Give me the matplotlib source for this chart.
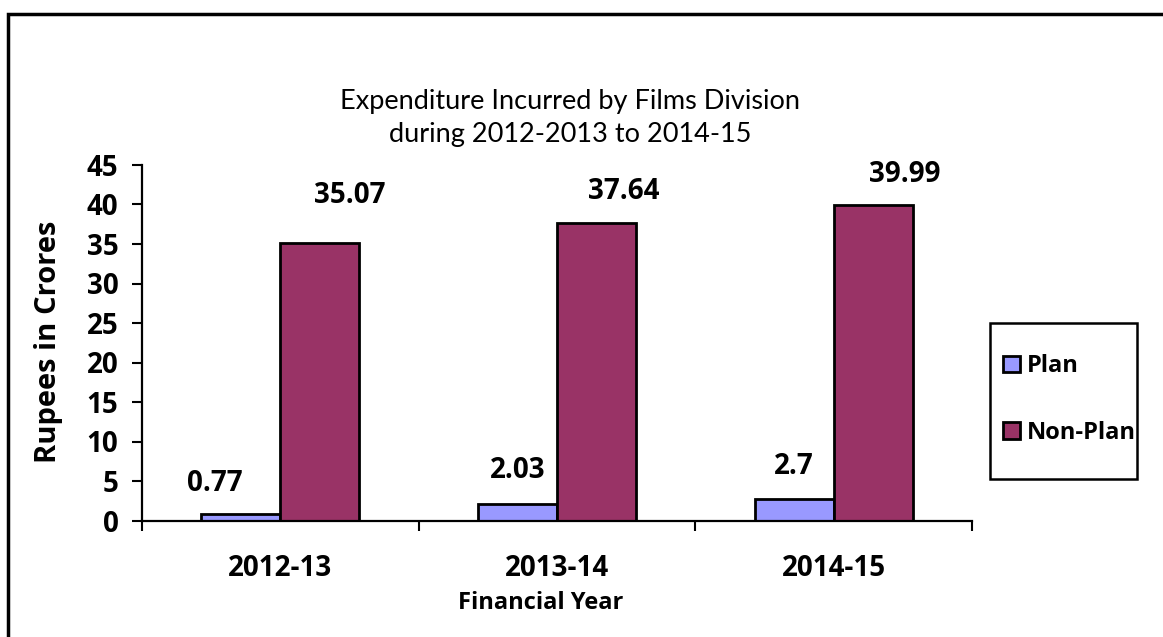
import matplotlib.pyplot as plt
import matplotlib.patches as mpatches
import numpy as np

years = ['2012-13', '2013-14', '2014-15']
plan = [0.77, 2.03, 2.7]
non_plan = [35.07, 37.64, 39.99]

# manual label nudges (pixels) relative to bar top-centre, as in the source chart
plan_off = [(-26, 31), (0, 34), (0, 33)]
non_plan_off = [(30, 48), (27, 32), (32, 30)]

plt.rcParams['font.family'] = ['Open Sans', 'DejaVu Sans']

W, H = 1163, 637
fig = plt.figure(figsize=(W / 100, H / 100), dpi=100)
ax = fig.add_axes([142 / W, 1 - 520.5 / H, (972 - 142) / W, (520.5 - 165) / H])

x = np.arange(len(years))
bw = 2 / 7
b1 = ax.bar(x - bw / 2, plan, bw, color='#9999FF', edgecolor='black', linewidth=2, label='Plan')
b2 = ax.bar(x + bw / 2, non_plan, bw, color='#993366', edgecolor='black', linewidth=2, label='Non-Plan')

for bars, vals, offs in [(b1, plan, plan_off), (b2, non_plan, non_plan_off)]:
    for r, v, (dx, dy) in zip(bars, vals, offs):
        ax.annotate(f'{v:g}', (r.get_x() + r.get_width() / 2, r.get_height()),
                    xytext=(dx * 0.72, dy * 0.72), textcoords='offset points',
                    ha='center', va='center', fontsize=20, fontweight='bold')

ax.set_xlim(-0.5, 2.5)
ax.set_ylim(0, 45)
ax.set_yticks(range(0, 46, 5))
ax.set_xticks(x)
ax.set_xticklabels(years)
ax.set_xticks([-0.5, 0.5, 1.5, 2.5], minor=True)
ax.tick_params(axis='x', which='major', length=0, pad=24, labelsize=20)
ax.tick_params(axis='x', which='minor', length=7, width=1.5, direction='out')
ax.tick_params(axis='y', length=7, width=1.5, direction='out', labelsize=20, pad=10)
for lab in ax.get_xticklabels() + ax.get_yticklabels():
    lab.set_fontweight('bold')

for s in ['top', 'right']:
    ax.spines[s].set_visible(False)
for s in ['left', 'bottom']:
    ax.spines[s].set_linewidth(1.6)

fig.text(49 / W, 1 - 342 / H, 'Rupees in Crores', rotation=90, ha='center', va='center',
         fontsize=21, fontweight='bold')
fig.text(541 / W, 1 - 603 / H, 'Financial Year', ha='center', va='center',
         fontsize=17, fontweight='bold')

fig.text(570 / W, 1 - 101 / H, 'Expenditure Incurred by Films Division', ha='center',
         va='center', fontsize=19.5, family=['Lato', 'DejaVu Sans'])
fig.text(570 / W, 1 - 134 / H, 'during 2012-2013 to 2014-15', ha='center',
         va='center', fontsize=19.5, family=['Lato', 'DejaVu Sans'])

leg = fig.legend(handles=[b1, b2], loc='center left', bbox_to_anchor=(1003 / W, 1 - 399.5 / H),
                 frameon=False, handlelength=0.72, handleheight=0.72, handletextpad=0.3,
                 labelspacing=1.8, borderpad=0, borderaxespad=0,
                 prop={'weight': 'bold', 'size': 17})

# legend frame
fig.patches.append(mpatches.Rectangle((990 / W, 1 - 479 / H), 147 / W, 156 / H,
                                      transform=fig.transFigure, fill=False,
                                      edgecolor='black', linewidth=1.8))
# outer chart border (runs off the right and bottom of the image)
fig.patches.append(mpatches.Rectangle((8 / W, -0.05), 1.1, 1 - 14 / H + 0.05,
                                      transform=fig.transFigure, fill=False,
                                      edgecolor='black', linewidth=2.5))

fig.savefig('out.png', dpi=100)
